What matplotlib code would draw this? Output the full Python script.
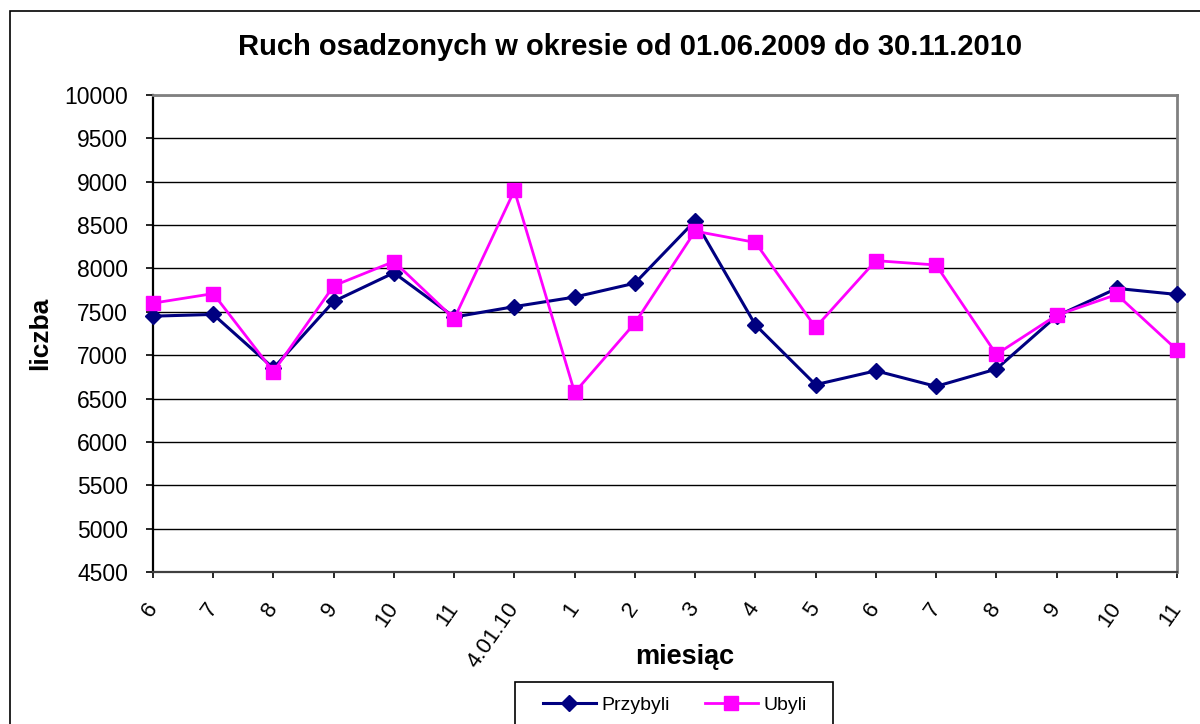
import matplotlib
matplotlib.use("Agg")
import matplotlib.pyplot as plt
from matplotlib.patches import Rectangle

plt.rcParams['font.family'] = ['Liberation Sans', 'DejaVu Sans']

months = ["6", "7", "8", "9", "10", "11", "4.01.10", "1", "2", "3", "4", "5",
          "6", "7", "8", "9", "10", "11"]
przybyli = [7450, 7470, 6850, 7620, 7950, 7440, 7560, 7670, 7830, 8550,
            7350, 6660, 6820, 6640, 6840, 7450, 7770, 7700]
ubyli = [7600, 7710, 6810, 7800, 8080, 7420, 8900, 6570, 7370, 8430,
         8300, 7320, 8090, 8040, 7010, 7460, 7700, 7060]
yticks = list(range(4500, 10001, 500))

W, H = 1200, 724
fig = plt.figure(figsize=(W / 100, H / 100), dpi=100)

def fx(px):
    return px / W

def fy(py):
    return 1 - py / H

# outer chart border
fig.patches.append(Rectangle((fx(10), fy(760)), fx(1250) - fx(10), fy(11) - fy(760),
                             transform=fig.transFigure, fill=False,
                             edgecolor='black', linewidth=1.2))

ax = fig.add_axes([fx(153), fy(572), fx(1177) - fx(153), fy(95) - fy(572)])
x = list(range(len(months)))

ax.plot(x, przybyli, color='#000080', marker='D', markersize=8.5, linewidth=2.2,
        label='Przybyli', zorder=3, clip_on=False)
ax.plot(x, ubyli, color='#FF00FF', marker='s', markersize=10.5, linewidth=2.0,
        label='Ubyli', zorder=3, clip_on=False)

ax.set_xlim(0, len(months) - 1)
ax.set_ylim(4500, 10000)
ax.set_yticks(yticks)
ax.set_yticklabels([str(v) for v in yticks])
ax.set_xticks(x)
ax.set_xticklabels(months, rotation=55, ha='right', va='center',
                   rotation_mode='anchor')

ax.yaxis.grid(True, color='black', linewidth=1.0)
ax.set_axisbelow(True)

ax.tick_params(axis='y', direction='out', length=5, width=1.2, pad=13,
               labelsize=16.5, colors='black')
ax.tick_params(axis='x', direction='out', length=4.5, width=1.2, pad=19,
               labelsize=16, colors='black')
for lbl in ax.get_xticklabels():
    lbl.set_x(lbl.get_position()[0])

for side in ['top', 'right']:
    ax.spines[side].set_color('#808080')
    ax.spines[side].set_linewidth(2.0)
ax.spines['left'].set_color('black')
ax.spines['left'].set_linewidth(1.6)
ax.spines['bottom'].set_color('#404040')
ax.spines['bottom'].set_linewidth(1.6)

fig.text(fx(630), fy(47), "Ruch osadzonych w okresie od 01.06.2009 do 30.11.2010",
         ha='center', va='center', fontsize=21, fontweight='bold')
fig.text(fx(40), fy(333), "liczba", ha='center', va='center', rotation=90,
         fontsize=19, fontweight='bold')
fig.text(fx(685), fy(657), "miesiąc", ha='center', va='center',
         fontsize=19.5, fontweight='bold')

# legend box
fig.patches.append(Rectangle((fx(515), fy(760)), fx(833) - fx(515), fy(682) - fy(760),
                             transform=fig.transFigure, fill=False,
                             edgecolor='black', linewidth=1.2))
handles, labels = ax.get_legend_handles_labels()
fig.legend(handles, labels, loc='center', bbox_to_anchor=(fx(675), fy(705)),
           ncol=2, frameon=False, fontsize=14, handlelength=2.7,
           handletextpad=0.3, columnspacing=1.8, borderpad=0, markerscale=0.9)

fig.savefig("out.png", dpi=100)
